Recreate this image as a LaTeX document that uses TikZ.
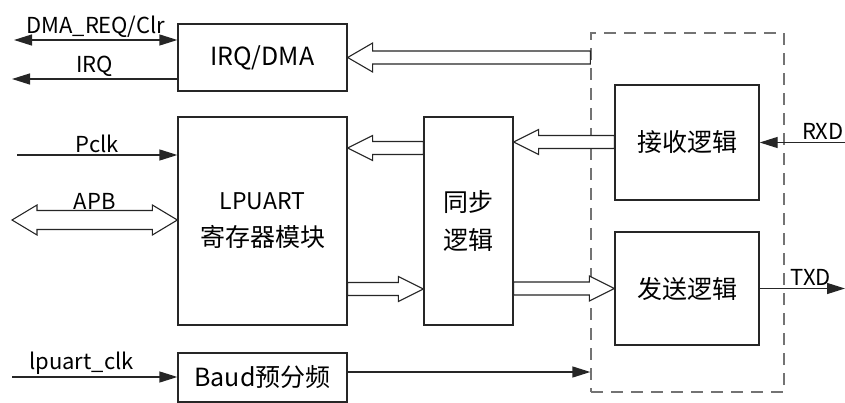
\documentclass[tikz,border=0pt]{standalone}
\usepackage{fontspec}
\setmainfont{Noto Sans CJK SC}
\usetikzlibrary{arrows.meta,positioning,calc}

% hollow bus arrow: [head half width]{from}{to}
\newcommand{\fatarrow}[3][12.5pt]{%
  \coordinate (headbase) at ($(#3)!25pt!(#2)$);
  \draw[fat] ($(#2)!6.5pt!90:(#3)$) -- ($(headbase)!6.5pt!90:(#3)$) -- ($(headbase)!#1!90:(#3)$) -- (#3)
    -- ($(headbase)!#1!-90:(#3)$) -- ($(headbase)!6.5pt!-90:(#3)$) -- ($(#2)!6.5pt!-90:(#3)$) -- cycle;}
% hollow bus arrow with two heads
\newcommand{\fatboth}[2]{%
  \coordinate (headA) at ($(#1)!25pt!(#2)$);
  \coordinate (headB) at ($(#2)!25pt!(#1)$);
  \draw[fat] (#1) -- ($(headA)!15pt!90:(#2)$) -- ($(headA)!9.5pt!90:(#2)$) -- ($(headB)!9.5pt!90:(#2)$)
    -- ($(headB)!15pt!90:(#2)$) -- (#2) -- ($(headB)!15pt!-90:(#2)$) -- ($(headB)!9.5pt!-90:(#2)$)
    -- ($(headA)!9.5pt!-90:(#2)$) -- ($(headA)!15pt!-90:(#2)$) -- cycle;}

\begin{document}
\begin{tikzpicture}[x=1pt,y=-1pt,>={Triangle[length=18pt,width=11pt]},line width=1.3pt,
  font=\fontsize{22}{37}\selectfont]
\tikzstyle{blk}=[draw=black!85,inner sep=0pt,align=center,font=\fontsize{25}{37}\selectfont]
\tikzstyle{fat}=[draw=black!85,fill=white,line width=1.1pt,line join=miter]
\tikzstyle{lbl}=[inner sep=2pt]
\useasboundingbox (0,0) rectangle (845,403);
% blocks
\node[blk,minimum width=169pt,minimum height=67pt] (irqdma) at (262.5,57.5) {IRQ/DMA};
\node[blk,minimum width=169pt,minimum height=208pt] (regblk) at (262.5,221) {{\fontsize{23}{37}\selectfont LPUART}\\寄存器模块};
\node[blk,minimum width=169pt,minimum height=49pt] (baud) at (262.5,377.5) {Baud预分频};
\node[blk,minimum width=89pt,minimum height=208pt] (sync) at (468.5,221) {同步\\逻辑};
\node[draw=black!55,dash pattern=on 12pt off 8pt,minimum width=193pt,minimum height=359pt] (phy) at (687.5,212.5) {};
\node[blk,minimum width=144pt,minimum height=115pt] (rxlogic) at (687,142.5) {接收逻辑};
\node[blk,minimum width=144pt,minimum height=113pt] (txlogic) at (687,288.5) {发送逻辑};
% free ends
\coordinate (dmaL) at (14,40); \coordinate (irqL) at (12,79); \coordinate (pclkL) at (17,155);
\coordinate (apbL) at (12,220); \coordinate (clkL) at (12,377);
\coordinate (rxdR) at (845,142.5); \coordinate (txdR) at (845,288.5);
\coordinate (apbR) at (regblk.west |- apbL);
\coordinate (baudO) at ($(baud.east)+(0,-5.5)$);
% signals
\draw[<->,black!85] (dmaL) -- node[lbl,above,black] (dmatxt) {DMA\_REQ/Clr} (irqdma.west |- dmaL);
\draw[->,black!85] (irqdma.west |- irqL) -- node[lbl,above,black] (irqtxt) {IRQ} (irqL);
\draw[->,black!85] (pclkL) -- node[lbl,above,black] (pclktxt) {Pclk} (regblk.west |- pclkL);
\fatboth{apbL}{apbR}
\path (apbL) -- node[lbl,above=8pt] (apbtxt) {APB} (apbR);
\draw[->,black!85] (clkL) -- node[lbl,above,pos=0.42,black] (clktxt) {lpuart\_clk} (baud.west |- clkL);
\draw[->,black!85] (baudO) -- (phy.west |- baudO);
\draw[->,black!85] (rxdR) -- node[lbl,above,pos=0.26,black] (rxdtxt) {RXD} (rxlogic.east);
\draw[->,black!85] (txlogic.east) -- node[lbl,above,pos=0.6,black] (txdtxt) {TXD} (txdR);
% buses
\coordinate (irqR) at (phy.west |- irqdma.east);
\coordinate (irqE) at (irqdma.east);
\fatarrow[14.5pt]{irqR}{irqE}
\coordinate (rxL) at (rxlogic.west |- 0,142); \coordinate (syncR) at (sync.east |- rxL);
\fatarrow{rxL}{syncR}
\coordinate (syncL) at (sync.west |- 0,148); \coordinate (regR) at (regblk.east |- syncL);
\fatarrow{syncL}{regR}
\coordinate (regO) at (regblk.east |- 0,289); \coordinate (syncI) at (sync.west |- regO);
\fatarrow{regO}{syncI}
\coordinate (syncO) at (sync.east |- txlogic.west); \coordinate (txI) at (txlogic.west);
\fatarrow{syncO}{txI}
\end{tikzpicture}
\end{document}
